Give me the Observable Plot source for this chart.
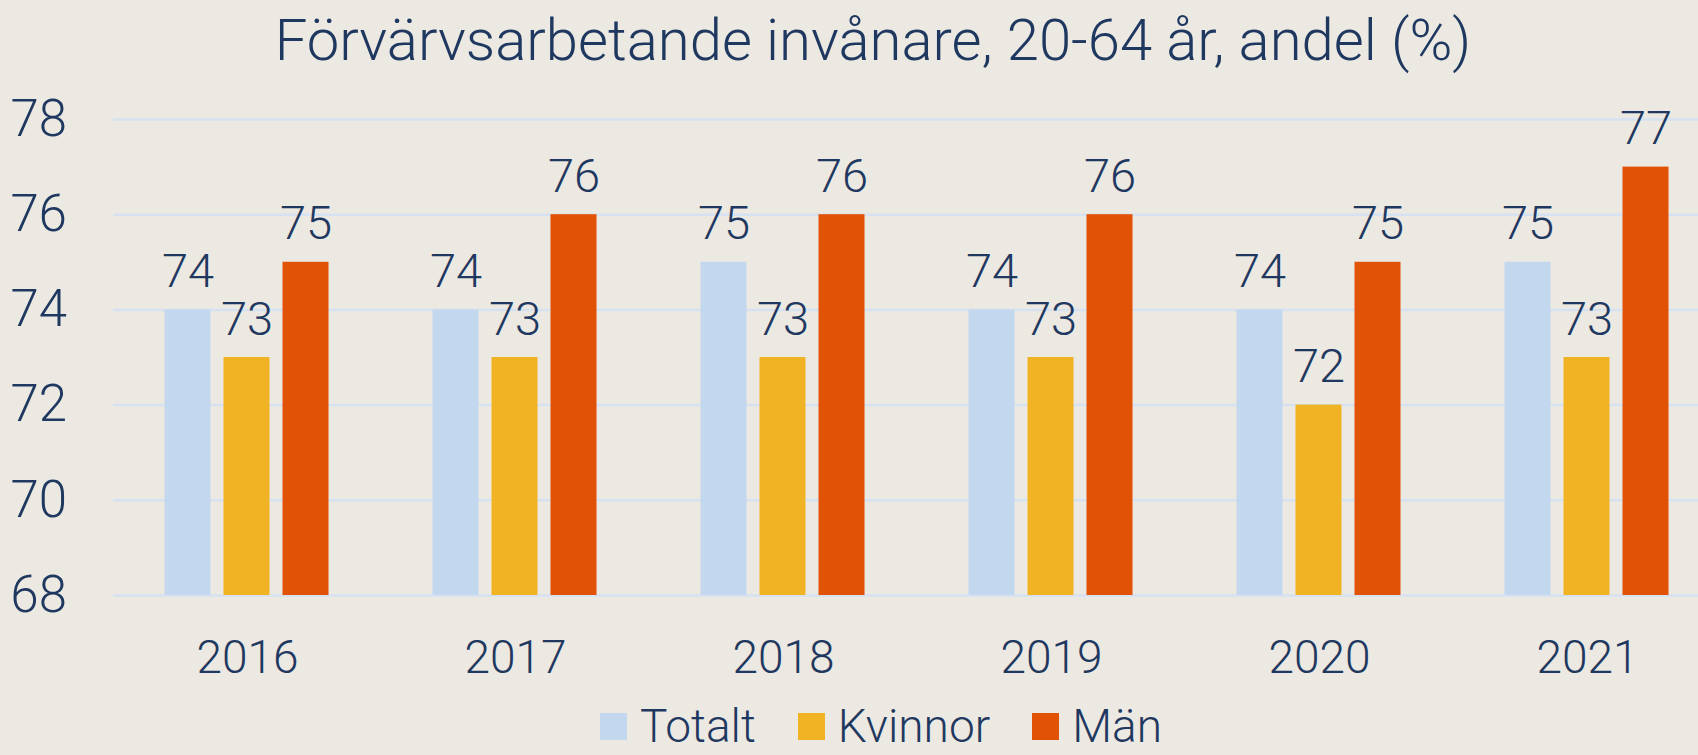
<!DOCTYPE html>
<html>
<head>
<meta charset="utf-8">
<script src="https://cdn.jsdelivr.net/npm/d3@7"></script>
<script src="https://cdn.jsdelivr.net/npm/@observablehq/plot@0.6"></script>
<style>
  html, body { margin: 0; padding: 0; background: #ECE8E2; }
  body { width: 1698px; height: 755px; overflow: hidden; position: relative; font-family: Roboto, "Noto Sans", sans-serif; color: #1F3860; }
  #title { position: absolute; left: 0; top: 0; width: 1698px; height: 80px; box-sizing: border-box; padding-left: 48px; text-align: center; font-size: 58px; line-height: 80px; font-weight: 300; white-space: nowrap; }
  #chart { position: absolute; left: 0; top: 80px; }
  #legend { position: absolute; left: 0; top: 709px; width: 1698px; box-sizing: border-box; padding-left: 64px; display: flex; justify-content: center; gap: 42px; font-size: 46px; line-height: 34px; font-weight: 300; }
  .item { display: flex; align-items: center; gap: 13px; height: 34px; }
  .sw { width: 27px; height: 27px; }
</style>
</head>
<body>
<div id="title"></div>
<div id="chart"></div>
<div id="legend"></div>
<script>
const titleText = "Förvärvsarbetande invånare, 20-64 år, andel (%)";
const years = ["2016", "2017", "2018", "2019", "2020", "2021"];
const series = ["Totalt", "Kvinnor", "Män"];
const totalt = [74, 74, 75, 74, 74, 75];
const kvinnor = [73, 73, 73, 73, 72, 73];
const man = [75, 76, 76, 76, 75, 77];
const yTicks = [68, 70, 72, 74, 76, 78];
const colors = ["#C3D8EE", "#F0B324", "#E25205"];
const navy = "#1F3860";
const grid = "#D6E2F1";

const valuesBySeries = [totalt, kvinnor, man];
const data = [];
years.forEach((yr, i) => {
  series.forEach((s, j) => data.push({year: yr, series: s, value: valuesBySeries[j][i]}));
});
const base = yTicks[0];

document.getElementById("title").textContent = titleText;

const chart = Plot.plot({
  width: 1698,
  height: 625,
  marginTop: 39,
  marginBottom: 110,
  marginLeft: 113.5,
  marginRight: 0,
  style: {background: "transparent", color: navy, fontFamily: "Roboto, 'Noto Sans', sans-serif", fontWeight: 300, overflow: "visible"},
  fx: {domain: years, range: [113.5, 1721.5], paddingInner: 0.38, paddingOuter: 0.19, label: null},
  x: {domain: series, paddingInner: 0.215, paddingOuter: 0, axis: null},
  y: {domain: [yTicks[0], yTicks[yTicks.length - 1]], label: null},
  color: {domain: series, range: colors},
  marks: [
    Plot.ruleY(yTicks, {stroke: grid, strokeWidth: 2.5, insetLeft: -51, insetRight: -51}),
    Plot.barY(data, {fx: "year", x: "series", y1: base, y2: "value", fill: "series"}),
    Plot.text(data, {fx: "year", x: "series", y: "value", text: d => String(d.value), lineAnchor: "bottom", dy: -23, fontSize: 47, fill: navy}),
    Plot.axisY(yTicks, {tickSize: 0, tickPadding: 97.5, fontSize: 51, fill: navy, label: null}),
    Plot.axisFx({anchor: "bottom", tickSize: 0, tickPadding: 45, fontSize: 46, fill: navy, label: null})
  ]
});
document.getElementById("chart").appendChild(chart);

const legend = document.getElementById("legend");
series.forEach((s, i) => {
  const item = document.createElement("div");
  item.className = "item";
  const sw = document.createElement("div");
  sw.className = "sw";
  sw.style.background = colors[i];
  const lab = document.createElement("span");
  lab.textContent = s;
  item.appendChild(sw);
  item.appendChild(lab);
  legend.appendChild(item);
});
</script>
</body>
</html>
